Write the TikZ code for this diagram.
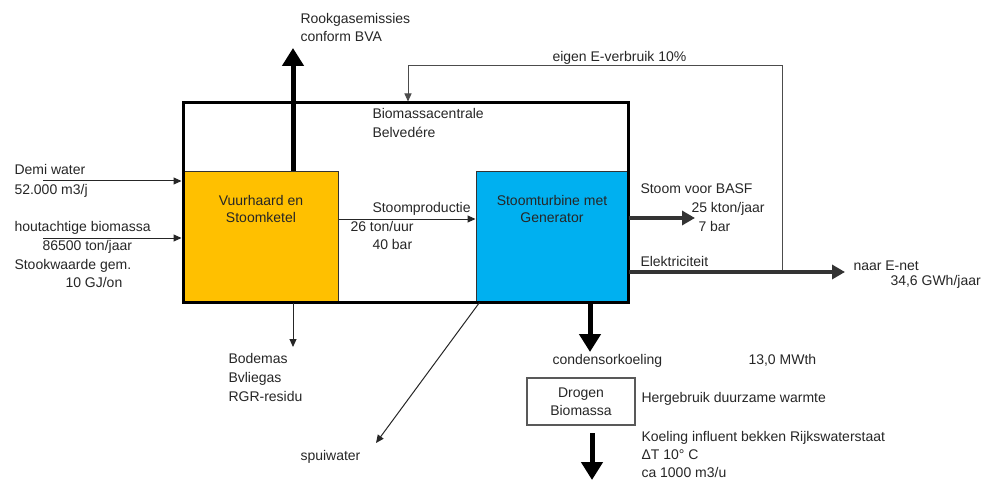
\documentclass[tikz,border=0pt]{standalone}
\usepackage{fontspec}
\setmainfont{Liberation Sans}
\usetikzlibrary{arrows.meta}

\definecolor{vuurgeel}{HTML}{FFC000}
\definecolor{turbineblauw}{HTML}{00B0F0}

\begin{document}
\begin{tikzpicture}[x=1pt, y=-1pt, line width=1pt,
    txt/.style={anchor=mid west, inner sep=0pt, text=black!85,
        font=\fontsize{14}{17.5}\selectfont},
    blok/.style={draw=black!80, line width=1pt, inner sep=0pt},
    pijl/.style={draw=black!85, -{Triangle[width=7pt,length=8pt]}},
    dik/.style={line width=5pt, -{Triangle[width=21pt,length=18pt]}},
    stroom/.style={line width=4pt, draw=black!80, -{Triangle[width=14pt,length=13pt]}}]
    \useasboundingbox (0,0) rectangle (987,481);

    % installaties
    \node[blok, fill=vuurgeel, minimum width=155pt, minimum height=130pt] (ketel) at (260.5,237) {};
    \node[blok, fill=turbineblauw, minimum width=152pt, minimum height=130pt] (turbine) at (552,237) {};
    \node[draw, line width=3pt, inner sep=0pt, minimum width=445pt, minimum height=199pt] (centrale) at (405.5,202.5) {};
    \node[txt, anchor=center, align=center] (ketellabel) at (261,209) {Vuurhaard en\\Stoomketel};
    \node[txt, anchor=center, align=center] (turbinelabel) at (552,209) {Stoomturbine met\\Generator};
    \node[txt] (centralelabel) at (372,116) {Biomassacentrale};
    \node[txt] (centralelabel2) at (372,135) {Belvedére};
    \node[blok, draw=black!65, line width=1.3pt, minimum width=108pt, minimum height=47pt, align=center,
        font=\fontsize{14}{17.5}\selectfont, text=black!85] (drogen) at (581,401.5) {Drogen\\Biomassa};

    % rookgas
    \coordinate (rookeinde) at (293,48);
    \draw[dik] (ketel.north -| rookeinde) -- (rookeinde);
    \node[txt] (rookgas) at (300,21) {Rookgasemissies};
    \node[txt] (rookgas2) at (300,39) {conform BVA};

    % eigen verbruik
    \coordinate (aftak) at (782,270);
    \coordinate (terughoek) at (408,66);
    \draw[pijl, draw=black!70] (aftak) |- (terughoek) -- (centrale.north -| terughoek);
    \node[txt] (eigen) at (552,59) {eigen E-verbruik 10\%};

    % ingaande stromen
    \coordinate (demibegin) at (43,181);
    \coordinate (houtbegin) at (43,238);
    \draw[pijl] (demibegin) -- (demibegin -| centrale.west);
    \draw[pijl] (houtbegin) -- (houtbegin -| centrale.west);
    \node[txt] (demi) at (14,172) {Demi water};
    \node[txt] (demi2) at (14,192) {52.000 m3/j};
    \node[txt] (hout) at (14,229) {houtachtige biomassa};
    \node[txt] (hout2) at (42,248) {86500 ton/jaar};
    \node[txt] (stook) at (14,267) {Stookwaarde gem.};
    \node[txt] (stook2) at (65,285) {10 GJ/on};

    % stoom
    \draw[pijl] ([yshift=18pt]ketel.east) -- ([yshift=18pt]ketel.east -| turbine.west);
    \node[txt] (stoomprod) at (372,210) {Stoomproductie};
    \node[txt] (stoomprod2) at (350,229) {26 ton/uur};
    \node[txt] (stoomprod3) at (372,247) {40 bar};

    % uitgaande stromen turbine
    \coordinate (basf) at (695,218);
    \coordinate (enet) at (845,272);
    \draw[stroom] (turbine.east |- basf) -- (basf);
    \draw[stroom] (turbine.east |- enet) -- (enet);
    \node[txt] (stoombasf) at (640,191) {Stoom voor BASF};
    \node[txt] (stoombasf2) at (691,210) {25 kton/jaar};
    \node[txt] (stoombasf3) at (698,229) {7 bar};
    \node[txt] (elek) at (640,264) {Elektriciteit};
    \node[txt] (naarnet) at (853,268) {naar E-net};
    \node[txt] (naarnet2) at (890,283) {34,6 GWh/jaar};

    % koeling
    \coordinate (condens) at (590,352);
    \coordinate (koelbegin) at (592,433);
    \coordinate (koeleinde) at (592,480);
    \draw[dik] (turbine.south -| condens) -- (condens);
    \draw[dik] (koelbegin) -- (koeleinde);
    \node[txt] (condenslabel) at (552,362) {condensorkoeling};
    \node[txt] (mwth) at (748,362) {13,0 MWth};
    \node[txt] (hergebruik) at (641,400) {Hergebruik duurzame warmte};
    \node[txt] (koeling) at (641,439) {Koeling influent bekken Rijkswaterstaat};
    \node[txt] (koeling2) at (641,457) {ΔT 10° C};
    \node[txt] (koeling3) at (641,475) {ca 1000 m3/u};

    % reststoffen
    \coordinate (asafvoer) at (293,347);
    \coordinate (spui) at (376,443);
    \draw[pijl] (ketel.south -| asafvoer) -- (asafvoer);
    \draw[pijl] ([xshift=4pt]turbine.south west) -- (spui);
    \node[txt] (bodemas) at (228,361) {Bodemas};
    \node[txt] (vliegas) at (228,380) {Bvliegas};
    \node[txt] (rgr) at (228,399) {RGR-residu};
    \node[txt] (spuiwater) at (300,458) {spuiwater};
\end{tikzpicture}
\end{document}
